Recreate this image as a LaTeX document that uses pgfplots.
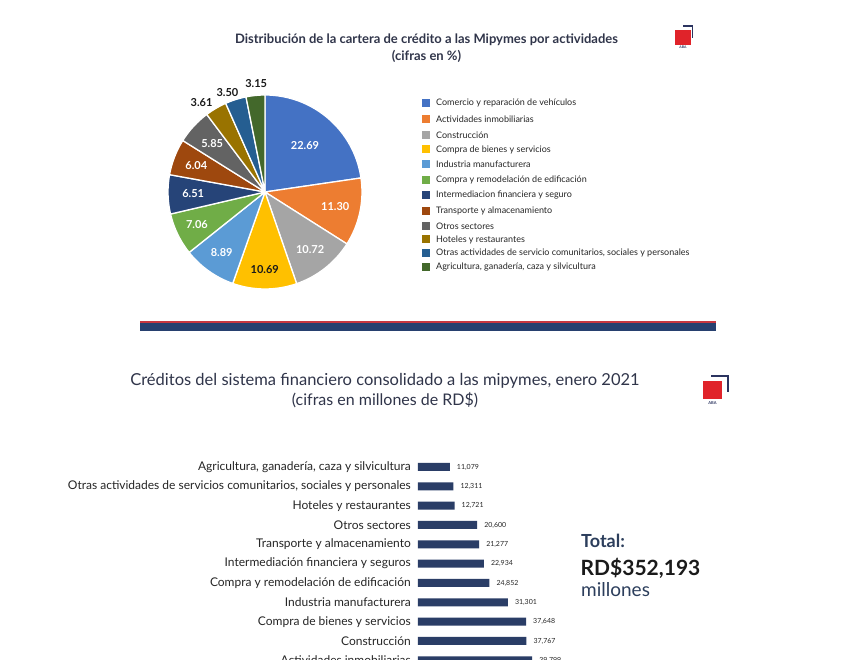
\documentclass[border=0pt]{standalone}
\usepackage{pgfplots}
\pgfplotsset{compat=1.18}
\usepackage{fontspec}
\setmainfont{Lato}

% Office palette of the pie
\definecolor{cA}{HTML}{4472C4}
\definecolor{cB}{HTML}{ED7D31}
\definecolor{cC}{HTML}{A5A5A5}
\definecolor{cD}{HTML}{FFC000}
\definecolor{cE}{HTML}{5B9BD5}
\definecolor{cF}{HTML}{70AD47}
\definecolor{cG}{HTML}{264478}
\definecolor{cH}{HTML}{9E480E}
\definecolor{cI}{HTML}{636363}
\definecolor{cJ}{HTML}{997300}
\definecolor{cK}{HTML}{255E91}
\definecolor{cL}{HTML}{43682B}
\definecolor{titlec}{HTML}{30354A}
\definecolor{labc}{HTML}{262626}
\definecolor{labdark}{HTML}{1A1A1A}
\definecolor{barc}{HTML}{2A3D66}
\definecolor{navy}{HTML}{2C3E5C}
\definecolor{abared}{HTML}{E0232A}
\definecolor{abanavy}{HTML}{2B3460}
\definecolor{linered}{HTML}{C8373F}
\definecolor{linenavy}{HTML}{27406F}

\newcommand{\fs}[1]{\fontsize{#1}{#1}\selectfont}

\begin{document}
\begin{tikzpicture}[x=1pt,y=1pt]
% page = 855 x 660
\fill[white] (0,0) rectangle (855,660);

% ---------- top panel ----------
\node[font=\fs{13}\bfseries, text=titlec] at (426.5,620) {Distribución de la cartera de crédito a las Mipymes por actividades};
\node[font=\fs{13}\bfseries, text=titlec] at (426.5,604) {(cifras en \%)};

% logo
\fill[abared] (675,615) rectangle (691,630);
\fill[abanavy] (682.7,633.3) rectangle (693.3,635);
\fill[abanavy] (691.7,621.7) rectangle (693.3,635);
\node[font=\fs{3.5}\bfseries, text=abanavy] at (683,612.3) {ABA};

\begin{scope}[shift={(168,371)}]
\begin{axis}[
    at={(0,0)}, anchor=south west,
    scale only axis, width=194pt, height=194pt,
    xmin=-1, xmax=1, ymin=-1, ymax=1,
    hide axis, clip=false,
]
\addplot[draw=none] coordinates {(0,0)};
\pgfplotsextra{%
  \gdef\cum{0}%
  \foreach \v/\c/\t/\r/\o in {22.69/cA/white/0.63/0, 11.30/cB/white/0.74/0,
      10.72/cC/white/0.75/0, 10.69/cD/labdark/0.80/0, 8.89/cE/white/0.77/0,
      7.06/cF/white/0.78/0, 6.51/cG/white/0.74/0, 6.04/cH/white/0.76/0,
      5.85/cI/white/0.74/0, 3.61/cJ/labdark/1.13/5, 3.50/cK/labdark/1.10/3,
      3.15/cL/labdark/1.12/-1} {%
    \pgfmathsetmacro\a{90-3.6*\cum}%
    \pgfmathsetmacro\b{90-3.6*(\cum+\v)}%
    \pgfmathsetmacro\m{(\a+\b)/2+\o}%
    \fill[\c, draw=white, line width=1.3pt, line join=round] (axis cs:0,0) -- (axis cs:{cos(\a)},{sin(\a)}) arc[start angle=\a, end angle=\b, radius=97pt] -- cycle;
    \node[text=\t, font=\fs{11}\bfseries] at (axis cs:{\r*cos(\m)},{\r*sin(\m)}) {\v};
    \pgfmathsetmacro\n{\cum+\v}\xdef\cum{\n}%
  }%
}
\end{axis}
\end{scope}

% legend of the pie
\foreach \c/\y/\t in {cA/103.3/Comercio y reparación de vehículos,
    cB/119.3/Actividades inmobiliarias, cC/135/Construcción,
    cD/149.5/Compra de bienes y servicios, cE/164.3/Industria manufacturera,
    cF/180/Compra y remodelación de edificación,
    cG/195/Intermediacion financiera y seguro,
    cH/211/Transporte y almacenamiento, cI/226/Otros sectores,
    cJ/239.5/Hoteles y restaurantes,
    cK/252.7/{Otras actividades de servicio comunitarios, sociales y personales},
    cL/266.7/{Agricultura, ganadería, caza y silvicultura}} {
  \fill[\c] (422,660-\y-4) rectangle (430,660-\y+4);
  \node[anchor=west, inner sep=0pt, font=\fs{9}, text=labc] at (436,660-\y) {\t};
}

% separator
\fill[linered] (140,337) rectangle (716,339);
\fill[linenavy] (140,328.5) rectangle (716,337);

% ---------- bottom panel ----------
\node[font=\fs{16.5}, text=titlec] at (385,279) {Créditos del sistema financiero consolidado a las mipymes, enero 2021};
\node[font=\fs{16}, text=titlec] at (385,260) {(cifras en millones de RD\$)};

% logo
\fill[abared] (703.3,261) rectangle (721.7,279.3);
\fill[abanavy] (711,283) rectangle (729,285);
\fill[abanavy] (727,268) rectangle (729,285);
\node[font=\fs{4}\bfseries, text=abanavy] at (712.5,257.3) {ABA};

% total
\node[anchor=west, inner sep=0pt, font=\fs{18}\bfseries, text=navy] at (581,119.5) {Total:};
\node[anchor=west, inner sep=0pt, font=\fs{21}\bfseries, text=labdark] at (580.5,92) {RD\$352,193};
\node[anchor=west, inner sep=0pt, font=\fs{19}, text=navy] at (581,70) {millones};

% bar chart, last row cut by the page edge as in the source
\begin{scope}
\clip (0,0) rectangle (855,660);
\begin{pgfinterruptboundingbox}
\begin{scope}[shift={(418,-10)}]
\begin{axis}[
    at={(0,0)}, anchor=south west,
    scale only axis, width=114.8pt, height=212.7pt,
    xbar, bar width=8pt,
    xmin=0, xmax=40000,
    ymin=-0.5, ymax=10.5,
    ytick={0,...,10},
    yticklabels={{Actividades inmobiliarias}, {Construcción},
        {Compra de bienes y servicios}, {Industria manufacturera},
        {Compra y remodelación de edificación},
        {Intermediación financiera y seguros},
        {Transporte y almacenamiento}, {Otros sectores},
        {Hoteles y restaurantes},
        {Otras actividades de servicios comunitarios, sociales y personales},
        {Agricultura, ganadería, caza y silvicultura}},
    xtick=\empty,
    axis line style={draw=none},
    major tick length=0pt,
    yticklabel style={font=\fs{12}, text=labc, inner sep=0pt, anchor=east, xshift=-7pt},
    nodes near coords, point meta=x,
    nodes near coords style={font=\fs{7}, text=labc, anchor=west, inner sep=0pt, xshift=7pt},
    /pgf/number format/1000 sep={,},
    /pgf/number format/assume math mode=true,
    clip=false,
]
\addplot[fill=barc, draw=none] coordinates {
    (39799,0) (37767,1) (37648,2) (31301,3) (24852,4) (22934,5)
    (21277,6) (20600,7) (12721,8) (12311,9) (11079,10)};
\end{axis}
\end{scope}
\end{pgfinterruptboundingbox}
\end{scope}
\end{tikzpicture}
\end{document}
